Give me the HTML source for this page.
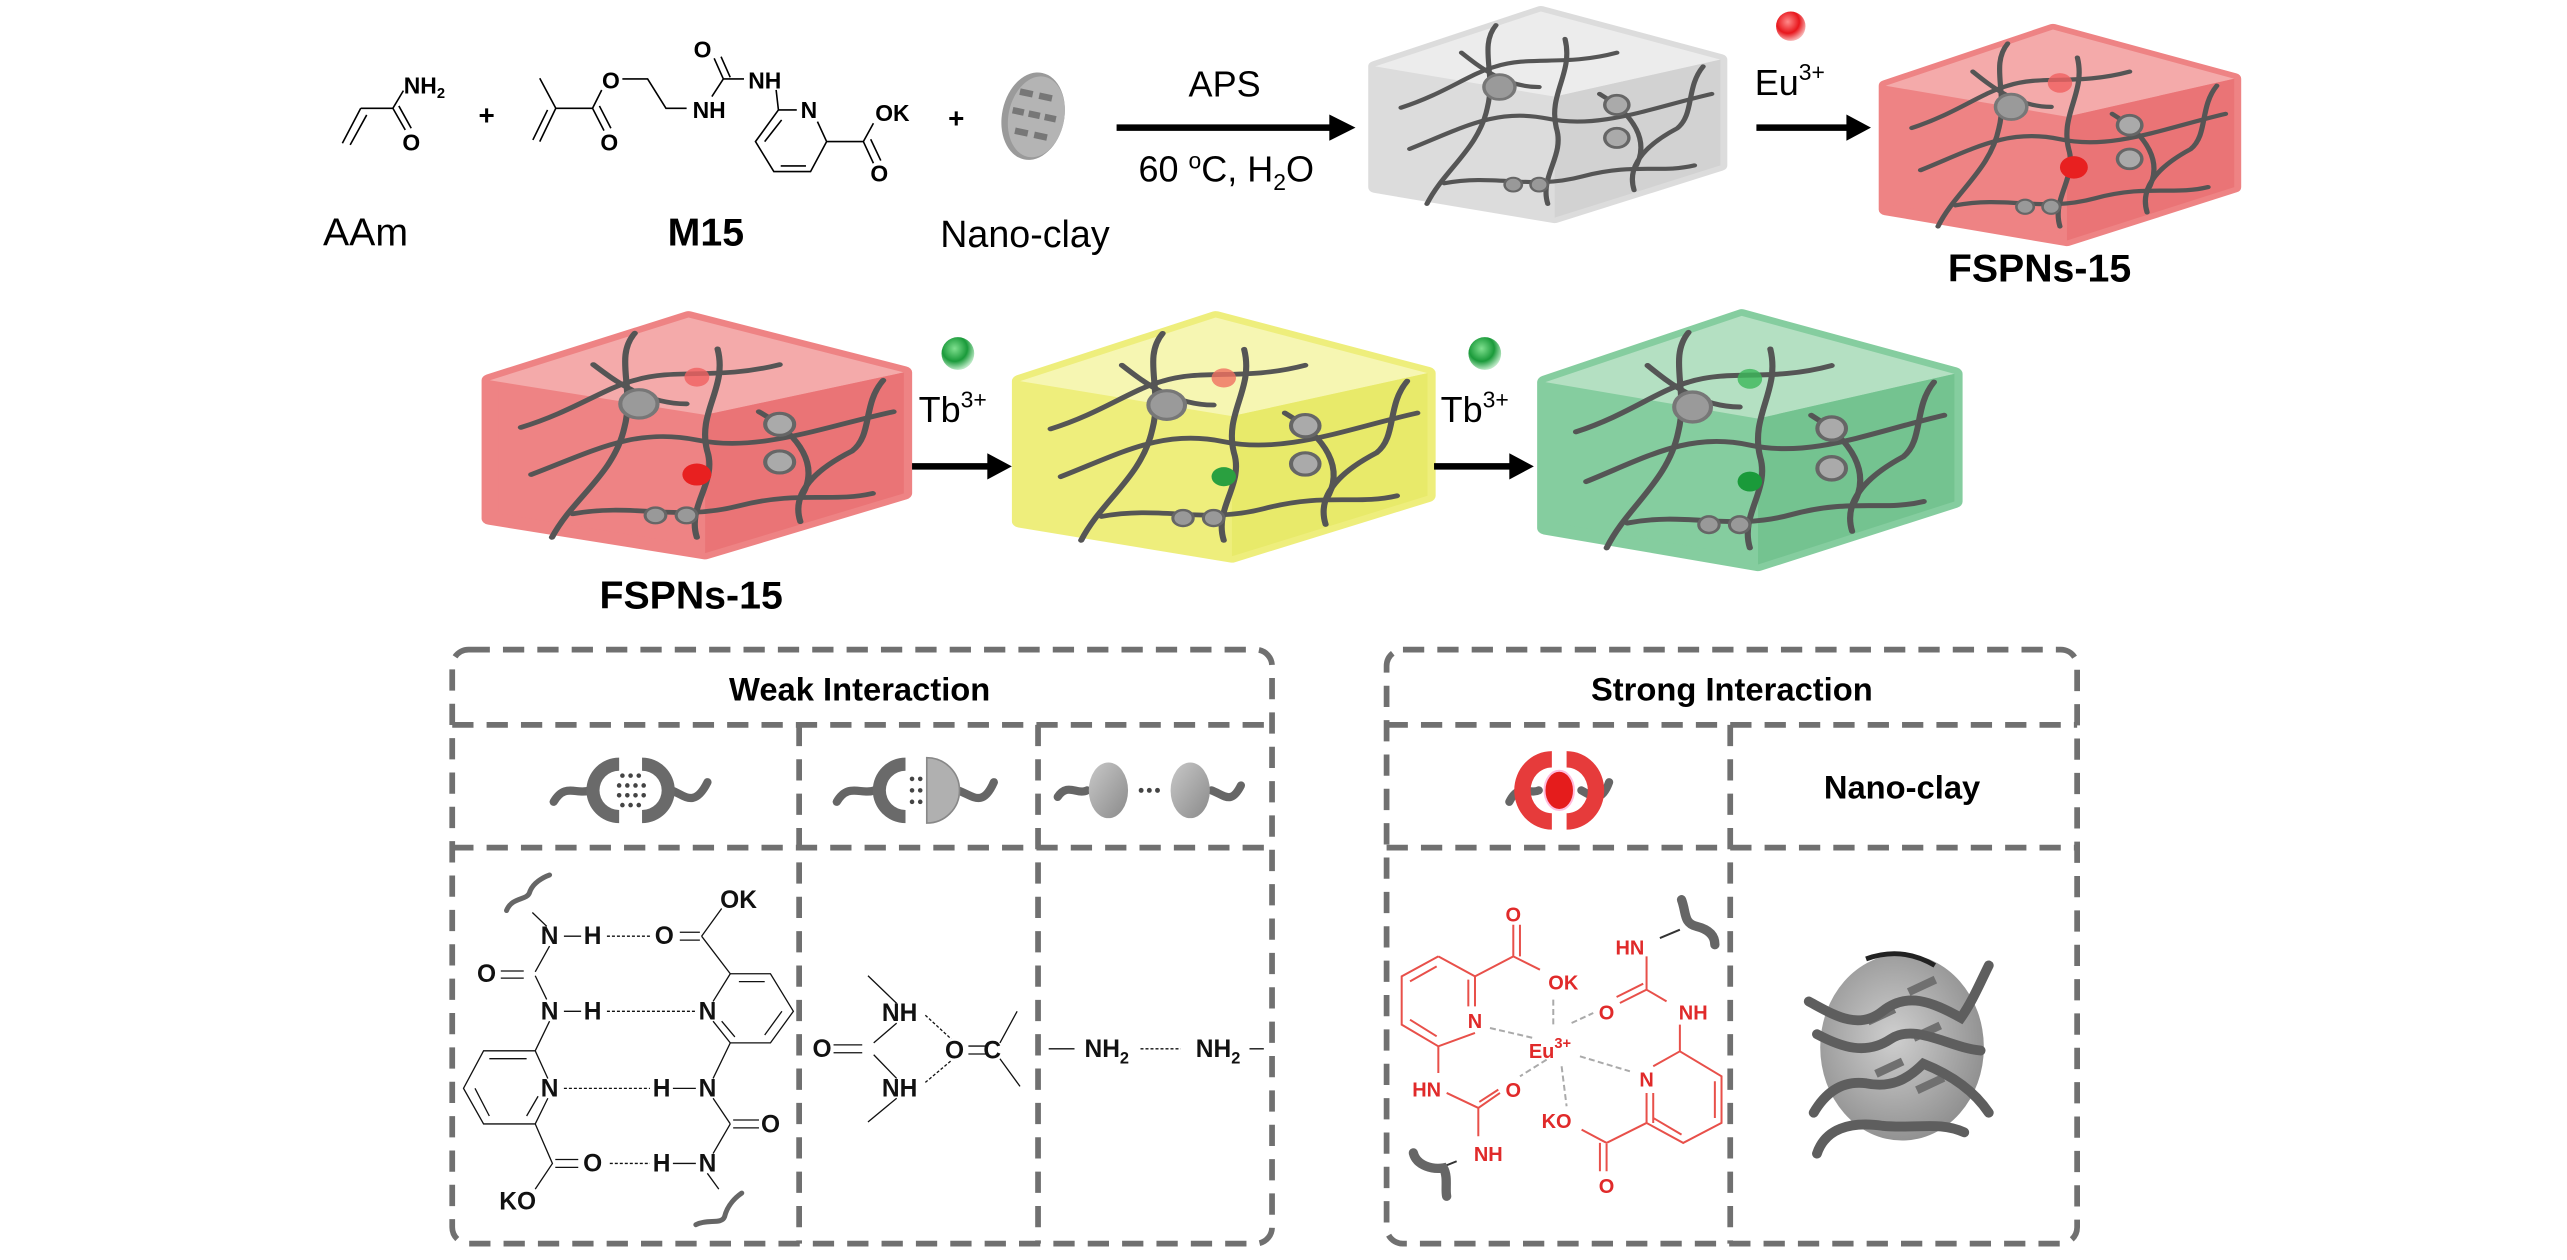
<!DOCTYPE html>
<html><head><meta charset="utf-8">
<style>
html,body{margin:0;padding:0;background:#fff;}
svg{display:block;}
text{font-family:"Liberation Sans",Arial,sans-serif;}
.b{font-weight:bold;}
</style></head>
<body>
<svg width="2567" height="1260" viewBox="0 0 1568 770" xmlns="http://www.w3.org/2000/svg">
<defs>
<radialGradient id="rdot" cx="40%" cy="35%" r="65%"><stop offset="0" stop-color="#ff8a8a"/><stop offset="0.6" stop-color="#e8161c"/><stop offset="1" stop-color="#f7b0b0"/></radialGradient>
<radialGradient id="gdot" cx="40%" cy="35%" r="65%"><stop offset="0" stop-color="#7fe08f"/><stop offset="0.6" stop-color="#1a9a3a"/><stop offset="1" stop-color="#b9e8c3"/></radialGradient>
<radialGradient id="clay" cx="45%" cy="45%" r="60%"><stop offset="0" stop-color="#cfcfcf"/><stop offset="1" stop-color="#8d8d8d"/></radialGradient>
<linearGradient id="ball" x1="0" y1="0" x2="1" y2="1"><stop offset="0" stop-color="#c8c8c8"/><stop offset="1" stop-color="#8a8a8a"/></linearGradient>
<g id="net" fill="none" stroke="#555" stroke-width="3" stroke-linecap="round">
<path d="M20,100 C50,85 70,70 100,78 C130,86 160,70 195,60"/>
<path d="M15,70 C40,60 55,45 70,40 C90,32 110,40 140,30"/>
<path d="M30,140 C40,115 60,100 65,70 C70,45 60,25 70,10"/>
<path d="M100,140 C95,120 110,105 105,85 C100,60 115,45 110,20"/>
<path d="M150,130 C145,110 160,95 175,85 C185,75 180,55 190,40"/>
<path d="M40,125 C70,118 90,130 120,120 C150,110 165,118 185,112"/>
<path d="M130,60 C150,75 160,95 150,115"/>
<path d="M50,30 C60,40 75,55 95,55"/>
<circle cx="72" cy="55" r="9" fill="#9a9a9a" stroke="#777" stroke-width="2"/>
<circle cx="140" cy="68" r="7" fill="#aaa" stroke="#666" stroke-width="2"/>
<circle cx="140" cy="92" r="7" fill="#aaa" stroke="#666" stroke-width="2"/>
<circle cx="80" cy="126" r="5" fill="#999" stroke="#666" stroke-width="1.5"/>
<circle cx="95" cy="126" r="5" fill="#999" stroke="#666" stroke-width="1.5"/>
</g>
</defs>

<g transform="translate(171,0) scale(0.2805,0.2036)" fill="none" stroke="#000" stroke-width="1.6">
<path vector-effect="non-scaling-stroke" d="M135,430 L175,325 M152,435 L188,345 M175,325 L245,325 L268,272 M245,325 L272,390 M258,318 L285,385"/>
<path vector-effect="non-scaling-stroke" d="M565,235 L600,325 L565,425 M582,330 L550,420 M600,325 L680,325 L700,270 M680,325 L705,392 M695,318 L720,385 M745,237 L800,237 L840,325 L885,325"/>
<path vector-effect="non-scaling-stroke" d="M940,290 L965,237 L1010,237 M965,237 L945,175 M980,232 L960,170 M1080,270 L1085,330 L1125,330 M1085,330 L1035,425 L1075,515 L1155,515 L1190,425 L1170,365 M1092,360 L1055,425 M1090,498 L1145,498 M1190,425 L1270,425 L1292,370 M1270,425 L1292,490 M1286,418 L1308,482"/>
</g>
<g font-weight="bold" font-size="14" text-anchor="middle" fill="#000">
<text x="259" y="57">NH<tspan font-size="9" dy="3">2</tspan></text>
<text x="251" y="92">O</text>
<text x="373" y="54">O</text>
<text x="372" y="92">O</text>
<text x="433" y="72">NH</text>
<text x="429" y="35">O</text>
<text x="467" y="54">NH</text>
<text x="494" y="72">N</text>
<text x="545" y="74">OK</text>
<text x="537" y="111">O</text>
<text x="297" y="76" font-size="17">+</text>
<text x="584" y="78" font-size="17">+</text>
</g>
<text x="223" y="150" font-size="24" text-anchor="middle">AAm</text>
<text x="431" y="150" font-size="24" text-anchor="middle" class="b">M15</text>
<text x="626" y="151" font-size="23" text-anchor="middle">Nano-clay</text>
<g transform="rotate(12 631 71)">
<ellipse cx="631" cy="71" rx="19" ry="27" fill="#9a9a9a"/>
<ellipse cx="633" cy="71" rx="17" ry="25" fill="#b4b4b4"/>
<g fill="#777"><rect x="620" y="56" width="8" height="4"/><rect x="632" y="56" width="8" height="4"/><rect x="618" y="68" width="7" height="4"/><rect x="628" y="68" width="7" height="4"/><rect x="638" y="68" width="7" height="4"/><rect x="622" y="80" width="8" height="4"/><rect x="634" y="80" width="8" height="4"/></g>
</g>
<text x="748" y="59" font-size="22" text-anchor="middle">APS</text>
<line x1="682" y1="78" x2="815" y2="78" stroke="#000" stroke-width="4"/>
<polygon points="812,70 828,78 812,86" fill="#000"/>
<text x="749" y="111" font-size="22" text-anchor="middle">60 <tspan font-size="14" dy="-8">o</tspan><tspan dy="8">C, H</tspan><tspan font-size="14" dy="5">2</tspan><tspan dy="-5">O</tspan></text>

<g transform="translate(840,7) scale(1.055,0.84)">
<polygon points="0,40 96,0 200,35 200,112 104,150 0,128" fill="#dcdcdc" stroke="#dcdcdc" stroke-width="8" stroke-linejoin="round"/>
<polygon points="0,40 96,0 200,35 104,62" fill="#ececec"/>
<polygon points="104,62 200,35 200,112 104,150" fill="#d2d2d2"/>
<use href="#net"/>
</g>
<circle cx="1094" cy="16" r="9" fill="url(#rdot)"/>
<text x="1072" y="58" font-size="22">Eu<tspan font-size="14" dy="-9">3+</tspan></text>
<line x1="1073" y1="78" x2="1130" y2="78" stroke="#000" stroke-width="4"/>
<polygon points="1128,70 1143,78 1128,86" fill="#000"/>
<g transform="translate(1152,18) scale(1.065,0.86)">
<polygon points="0,40 96,0 200,35 200,112 104,150 0,128" fill="#ee8384" stroke="#ee8384" stroke-width="8" stroke-linejoin="round"/>
<polygon points="0,40 96,0 200,35 104,62" fill="#f4aaaa"/>
<polygon points="104,62 200,35 200,112 104,150" fill="#ea7476"/>
<use href="#net"/>
<circle cx="100" cy="38" r="7" fill="#f06060" opacity="0.8"/>
<circle cx="108" cy="98" r="8" fill="#e82020"/>
</g>
<text x="1246" y="172" font-size="24" class="b" text-anchor="middle">FSPNs-15</text>

<g transform="translate(299,194) scale(1.265,0.96)">
<polygon points="0,40 96,0 200,35 200,112 104,150 0,128" fill="#ee8384" stroke="#ee8384" stroke-width="8" stroke-linejoin="round"/>
<polygon points="0,40 96,0 200,35 104,62" fill="#f4aaaa"/>
<polygon points="104,62 200,35 200,112 104,150" fill="#ea7476"/>
<use href="#net"/>
<circle cx="100" cy="38" r="6" fill="#f06060" opacity="0.8"/>
<circle cx="100" cy="100" r="7" fill="#e82020"/>
</g>
<text x="422" y="372" font-size="24" class="b" text-anchor="middle">FSPNs-15</text>

<circle cx="585" cy="216" r="10" fill="url(#gdot)"/>
<text x="561" y="258" font-size="22">Tb<tspan font-size="14" dy="-9">3+</tspan></text>
<line x1="557" y1="285" x2="605" y2="285" stroke="#000" stroke-width="4"/>
<polygon points="603,277 618,285 603,293" fill="#000"/>

<g transform="translate(623,194) scale(1.245,0.973)">
<polygon points="0,40 96,0 200,35 200,112 104,150 0,128" fill="#eeee7c" stroke="#eeee7c" stroke-width="8" stroke-linejoin="round"/>
<polygon points="0,40 96,0 200,35 104,62" fill="#f6f6b2"/>
<polygon points="104,62 200,35 200,112 104,150" fill="#e8ea6a"/>
<use href="#net"/>
<circle cx="100" cy="38" r="6" fill="#f07060" opacity="0.8"/>
<circle cx="100" cy="100" r="6" fill="#2aa040"/>
</g>

<circle cx="907" cy="216" r="10" fill="url(#gdot)"/>
<text x="880" y="258" font-size="22">Tb<tspan font-size="14" dy="-9">3+</tspan></text>
<line x1="876" y1="285" x2="924" y2="285" stroke="#000" stroke-width="4"/>
<polygon points="922,277 937,285 922,293" fill="#000"/>

<g transform="translate(944,193) scale(1.25,1.013)">
<polygon points="0,40 96,0 200,35 200,112 104,150 0,128" fill="#85cd9f" stroke="#85cd9f" stroke-width="8" stroke-linejoin="round"/>
<polygon points="0,40 96,0 200,35 104,62" fill="#b4e0c2"/>
<polygon points="104,62 200,35 200,112 104,150" fill="#74c390"/>
<use href="#net"/>
<circle cx="100" cy="38" r="6" fill="#3cb85a" opacity="0.8"/>
<circle cx="100" cy="100" r="6" fill="#1a9a3a"/>
</g>

<g fill="none" stroke="#707070" stroke-width="3.5" stroke-dasharray="13 8">
<rect x="276" y="397" width="501" height="363" rx="10"/>
<line x1="276" y1="443" x2="777" y2="443"/>
<line x1="276" y1="518" x2="777" y2="518"/>
<line x1="488" y1="443" x2="488" y2="760"/>
<line x1="634" y1="443" x2="634" y2="760"/>
<rect x="847" y="397" width="422" height="363" rx="10"/>
<line x1="847" y1="443" x2="1269" y2="443"/>
<line x1="847" y1="518" x2="1269" y2="518"/>
<line x1="1057" y1="443" x2="1057" y2="760"/>
</g>
<text x="525" y="428" font-size="20" class="b" text-anchor="middle">Weak Interaction</text>
<text x="1058" y="428" font-size="20" class="b" text-anchor="middle">Strong Interaction</text>
<text x="1162" y="488" font-size="20" class="b" text-anchor="middle">Nano-clay</text>

<g stroke="#666" stroke-width="5" fill="none" stroke-linecap="round">
<path d="M338,490 C345,478 352,486 360,483"/>
<path d="M410,483 C418,486 424,494 432,478"/>
<path d="M511,490 C518,478 526,486 534,483"/>
<path d="M585,483 C594,486 600,494 607,478"/>
<path d="M646,487 C652,478 658,486 664,483"/>
<path d="M740,483 C748,486 752,492 758,480"/>
</g>
<g fill="#6a6a6a">
<path d="M378,463 A20,20 0 0 0 378,503 L378,495 A12,12 0 0 1 378,471 Z"/>
<path d="M392,463 A20,20 0 0 1 392,503 L392,495 A12,12 0 0 0 392,471 Z"/>
<path d="M553,463 A20,20 0 0 0 553,503 L553,495 A12,12 0 0 1 553,471 Z"/>
</g>
<path d="M566,463 A20,20 0 0 1 566,503 Z" fill="#b0b0b0" stroke="#888" stroke-width="1"/>
<g fill="#444">
<circle cx="380" cy="474" r="1.4"/><circle cx="385" cy="474" r="1.4"/><circle cx="390" cy="474" r="1.4"/>
<circle cx="378" cy="480" r="1.4"/><circle cx="383" cy="480" r="1.4"/><circle cx="388" cy="480" r="1.4"/><circle cx="393" cy="480" r="1.4"/>
<circle cx="378" cy="486" r="1.4"/><circle cx="383" cy="486" r="1.4"/><circle cx="388" cy="486" r="1.4"/><circle cx="393" cy="486" r="1.4"/>
<circle cx="380" cy="492" r="1.4"/><circle cx="385" cy="492" r="1.4"/><circle cx="390" cy="492" r="1.4"/>
<circle cx="557" cy="476" r="1.4"/><circle cx="562" cy="476" r="1.4"/><circle cx="557" cy="483" r="1.4"/><circle cx="562" cy="483" r="1.4"/><circle cx="557" cy="490" r="1.4"/><circle cx="562" cy="490" r="1.4"/>
<circle cx="697" cy="483" r="1.5"/><circle cx="702" cy="483" r="1.5"/><circle cx="707" cy="483" r="1.5"/>
</g>
<ellipse cx="677" cy="483" rx="12" ry="17" fill="url(#ball)"/>
<ellipse cx="727" cy="483" rx="12" ry="17" fill="url(#ball)"/>

<g stroke="#666" stroke-width="5" fill="none" stroke-linecap="round">
<path d="M922,490 C928,478 934,486 940,483"/>
<path d="M966,483 C972,486 978,492 983,478"/>
</g>
<path d="M948,459 A23,24 0 0 0 948,507 L948,497 A13,14 0 0 1 948,469 Z" fill="#e63b3b"/>
<path d="M957,459 A23,24 0 0 1 957,507 L957,497 A13,14 0 0 0 957,469 Z" fill="#e63b3b"/>
<ellipse cx="952.5" cy="483" rx="9" ry="12" fill="#e51c1c" stroke="#fbd" stroke-width="1.2"/>

<g transform="translate(256.6,391) scale(0.3506,0.2415)" fill="none" stroke="#111">
<path vector-effect="non-scaling-stroke" stroke-width="1.3" d="M250,750 L280,750 M452,740 L487,740 M452,760 L487,760 M490,750 L525,680 M490,750 L540,845 M225,775 L200,840 M140,838 L180,838 M140,856 L180,856 M200,850 L220,910 M250,940 L280,940 M225,965 L200,1040 L110,1040 L75,1135 L110,1225 L200,1225 L222,1160 M200,1040 L222,1110 M120,1060 L185,1060 M95,1135 L120,1205 M185,1205 L205,1155 M540,845 L510,915 M510,965 L540,1020 L610,1020 L650,940 L610,845 L540,845 M555,865 L600,865 M630,940 L600,1000 M525,965 L548,1005 M540,1020 L510,1110 M510,1160 L540,1225 M545,1215 L590,1215 M545,1235 L590,1235 M540,1225 L510,1300 M440,1135 L480,1135 M440,1325 L480,1325 M235,1315 L275,1315 M235,1335 L275,1335 M200,1225 L230,1325 L200,1390 M195,690 L220,725 M500,1350 L520,1390"/>
<path vector-effect="non-scaling-stroke" stroke-width="1.3" stroke-dasharray="3 2" d="M325,750 L400,750 M325,940 L480,940 M250,1135 L400,1135 M330,1325 L400,1325"/>
<path vector-effect="non-scaling-stroke" stroke-width="1.3" d="M780,850 L830,920 M830,970 L790,1020 M720,1025 L770,1025 M720,1045 L770,1045 M790,1050 L830,1110 M830,1160 L780,1220 M1010,1020 L1040,940 M1010,1060 L1045,1130 M955,1028 L990,1028 M955,1048 L990,1048 M1095,1035 L1140,1035 M1445,1035 L1470,1035"/>
<path vector-effect="non-scaling-stroke" stroke-width="1.3" stroke-dasharray="3 2" d="M880,950 L925,1010 M880,1120 L925,1065 M1255,1035 L1325,1035"/>
<path vector-effect="non-scaling-stroke" stroke="#666" stroke-width="5" stroke-linecap="round" d="M150,685 C160,650 185,660 190,640 C195,615 215,600 225,595 M480,1480 C500,1465 525,1480 530,1460 C535,1430 550,1410 560,1400"/>
</g>
<g font-weight="bold" font-size="15" text-anchor="middle" fill="#111">
<text x="335.5" y="577">N</text><text x="361.8" y="577">H</text><text x="405.6" y="577">O</text><text x="451" y="555">OK</text>
<text x="297" y="600">O</text><text x="335.5" y="623">N</text><text x="361.8" y="623">H</text><text x="432" y="623">N</text>
<text x="335.5" y="670">N</text><text x="404" y="670">H</text><text x="432" y="670">N</text><text x="470.5" y="692">O</text>
<text x="361.8" y="716">O</text><text x="404" y="716">H</text><text x="432" y="716">N</text><text x="316" y="739">KO</text>
<text x="549.4" y="624">NH</text><text x="549.4" y="670">NH</text><text x="502" y="646">O</text><text x="583" y="647">O</text><text x="606" y="647">C</text>
<text x="676" y="646">NH<tspan font-size="10" dy="4">2</tspan></text><text x="744" y="646">NH<tspan font-size="10" dy="4">2</tspan></text>
</g>

<g transform="translate(849.1,525.4) scale(0.2036)">
<g fill="none" stroke="#e8504a" stroke-width="6">
<path d="M145,290 L255,350 L255,440 M255,520 L145,560 L35,495 L35,350 L145,290 M60,365 L140,320 M60,480 L140,530 M235,360 L235,440 M255,350 L370,290 L370,195 M390,290 L390,195 M370,290 L450,330 M145,560 L145,640 M170,700 L265,745 L330,700 M268,727 L325,690 M265,745 L265,830 M770,290 L770,390 L690,430 M760,372 L680,412 M770,390 L830,425 M870,495 L870,575 L995,650 L995,790 L880,850 L770,790 L770,700 M870,575 L790,620 M975,665 L975,775 M790,775 L875,825 M790,790 L790,700 M770,790 L650,850 L575,810 M650,850 L650,935 M630,850 L630,935"/>
<path d="M810,235 L870,210" stroke="#333" stroke-width="6"/>
<path d="M200,905 L150,925" stroke="#333" stroke-width="6"/>
</g>
<g fill="none" stroke="#aaa" stroke-width="6" stroke-dasharray="18 10">
<path d="M490,420 L490,500 M300,505 L430,535 M470,600 L390,650 M515,620 L530,740 M545,490 L610,460 M570,590 L720,635"/>
</g>
<g fill="none" stroke="#666" stroke-width="28" stroke-linecap="round">
<path d="M875,120 C890,160 880,190 920,200 C960,210 975,230 975,255"/>
<path d="M70,880 C80,920 130,930 160,925 C175,950 165,990 170,1010"/>
</g>
<g font-size="60" font-weight="bold" fill="#e02a2a" text-anchor="middle">
<text x="370" y="185">O</text><text x="520" y="390">OK</text><text x="255" y="505">N</text>
<text x="480" y="595">Eu<tspan font-size="44" dy="-30">3+</tspan></text>
<text x="110" y="710">HN</text><text x="370" y="712">O</text><text x="295" y="905">NH</text>
<text x="720" y="285">HN</text><text x="650" y="480">O</text><text x="910" y="480">NH</text>
<text x="770" y="680">N</text><text x="500" y="805">KO</text><text x="650" y="1000">O</text>
</g>
</g>

<g>
<ellipse cx="1162" cy="640" rx="50" ry="57" fill="url(#clay)"/>
<path d="M1140,586 Q1162,578 1182,590" stroke="#222" stroke-width="3" fill="none"/>
<g fill="#707070">
<rect x="1165" y="600" width="18" height="5" transform="rotate(-25 1174 602)"/>
<rect x="1140" y="618" width="18" height="5" transform="rotate(-25 1149 620)"/>
<rect x="1168" y="628" width="18" height="5" transform="rotate(-25 1177 630)"/>
<rect x="1145" y="650" width="18" height="5" transform="rotate(-25 1154 652)"/>
<rect x="1170" y="660" width="18" height="5" transform="rotate(-25 1179 662)"/>
</g>
<g fill="none" stroke="#5e5e5e" stroke-width="6" stroke-linecap="round">
<path d="M1105,612 C1120,620 1135,630 1150,618 C1165,606 1180,612 1198,622 C1205,612 1210,600 1215,590"/>
<path d="M1110,632 C1125,640 1140,645 1155,635 C1170,625 1190,640 1210,642"/>
<path d="M1108,680 C1115,668 1125,660 1140,662 C1155,665 1165,660 1175,650 C1190,656 1205,665 1215,680"/>
<path d="M1110,705 C1115,690 1130,685 1150,688 C1170,690 1185,685 1200,692"/>
</g>
</g>
</svg>
</body></html>
